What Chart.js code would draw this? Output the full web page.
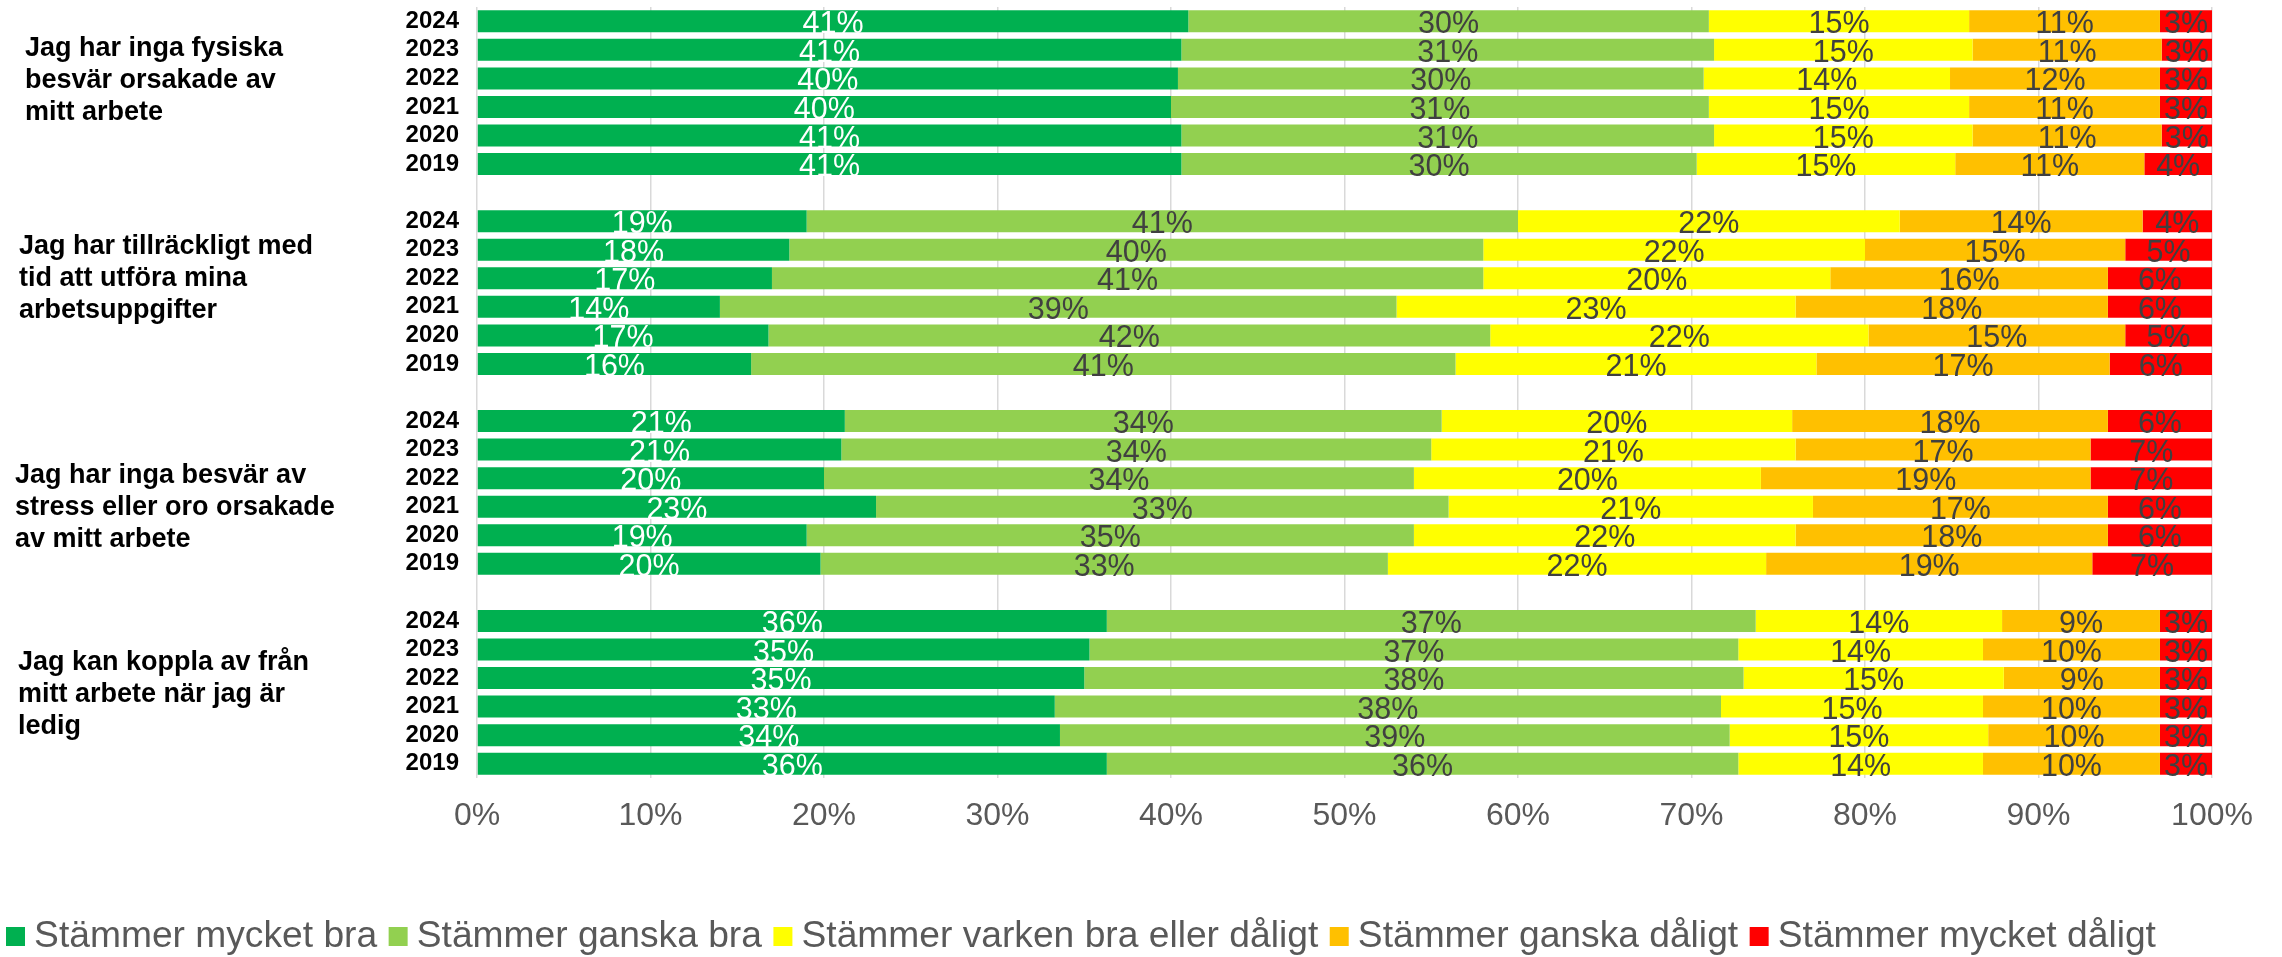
<!DOCTYPE html>
<html><head><meta charset="utf-8">
<script src="https://cdn.jsdelivr.net/npm/chart.js@4/dist/chart.umd.min.js"></script>
<style>html,body{margin:0;padding:0;background:#fff}#wrap{width:2282px;height:957px;position:relative}</style>
</head><body><div id="wrap"><canvas id="c"></canvas></div>
<script>
const years = ['2024','2023','2022','2021','2020','2019'];
const statements = [
  ['Jag har inga fysiska','besvär orsakade av','mitt arbete'],
  ['Jag har tillräckligt med','tid att utföra mina','arbetsuppgifter'],
  ['Jag har inga besvär av','stress eller oro orsakade','av mitt arbete'],
  ['Jag kan koppla av från','mitt arbete när jag är','ledig']
];
const seriesNames = ['Stämmer mycket bra','Stämmer ganska bra','Stämmer varken bra eller dåligt','Stämmer ganska dåligt','Stämmer mycket dåligt'];
const seriesColors = ['#00B050','#92D050','#FFFF00','#FFC000','#FF0000'];
const xTicks = [0,10,20,30,40,50,60,70,80,90,100];
// values (percent) per statement, years 2024..2019
const mycketBra = [
  41.0, 40.6, 40.4, 40.0, 40.6, 40.6,
  19.0, 18.0, 17.0, 14.0, 16.8, 15.8,
  21.2, 21.0, 20.0, 23.0, 19.0, 19.8,
  36.3, 35.3, 35.0, 33.3, 33.6, 36.3];
const ganskaBra = [
  30.0, 30.7, 30.3, 31.0, 30.7, 29.7,
  41.0, 40.0, 41.0, 39.0, 41.6, 40.6,
  34.4, 34.0, 34.0, 33.0, 35.0, 32.7,
  37.4, 37.4, 38.0, 38.4, 38.6, 36.4];
const varken = [
  15.0, 14.9, 14.2, 15.0, 14.9, 14.9,
  22.0, 22.0, 20.0, 23.0, 21.8, 20.8,
  20.2, 21.0, 20.0, 21.0, 22.0, 21.8,
  14.2, 14.1, 15.0, 15.1, 14.9, 14.1];
const ganskaDaligt = [
  11.0, 10.9, 12.1, 11.0, 10.9, 10.9,
  14.0, 15.0, 16.0, 18.0, 14.8, 16.9,
  18.2, 17.0, 19.0, 17.0, 18.0, 18.8,
  9.1, 10.2, 9.0, 10.2, 9.9, 10.2];
const mycketDaligt = [
  3.0, 2.9, 3.0, 3.0, 2.9, 3.9,
  4.0, 5.0, 6.0, 6.0, 5.0, 5.9,
  6.0, 7.0, 7.0, 6.0, 6.0, 6.9,
  3.0, 3.0, 3.0, 3.0, 3.0, 3.0];

const seriesValues = [mycketBra, ganskaBra, varken, ganskaDaligt, mycketDaligt];

// build category list with an empty slot between statements
const categories = [];
const groupIndex = [];
statements.forEach((s, g) => {
  const first = categories.length;
  years.forEach(y => categories.push(y));
  groupIndex.push([first, categories.length - 1]);
  if (g < statements.length - 1) categories.push('');
});
function expand(arr) {
  const out = [];
  statements.forEach((s, g) => {
    for (let k = 0; k < years.length; k++) out.push(arr[g * years.length + k]);
    if (g < statements.length - 1) out.push(null);
  });
  return out;
}

const FONT = '"Liberation Sans", Arial, sans-serif';

const valueLabels = {
  id: 'valueLabels',
  afterDatasetsDraw(chart) {
    const ctx = chart.ctx;
    ctx.save();
    ctx.font = '30.5px ' + FONT;
    ctx.textAlign = 'center';
    ctx.textBaseline = 'alphabetic';
    chart.data.datasets.forEach((ds, di) => {
      const meta = chart.getDatasetMeta(di);
      meta.data.forEach((bar, i) => {
        const v = ds.data[i];
        if (v == null) return;
        const p = bar.getProps(['x', 'y', 'base'], true);
        ctx.fillStyle = di === 0 ? '#FFFFFF' : '#404040';
        ctx.fillText(Math.round(v) + '%', (p.x + p.base) / 2, p.y + 12);
      });
    });
    ctx.restore();
  }
};

const groupLabels = {
  id: 'groupLabels',
  afterDraw(chart, args, opts) {
    const ctx = chart.ctx;
    const ys = chart.scales.y;
    ctx.save();
    ctx.font = 'bold 27px ' + FONT;
    ctx.fillStyle = '#000000';
    ctx.textAlign = 'left';
    ctx.textBaseline = 'alphabetic';
    statements.forEach((lines, g) => {
      const [a, b] = groupIndex[g];
      const mid = (ys.getPixelForValue(a) + ys.getPixelForValue(b)) / 2 + opts.offsets[g].dy;
      lines.forEach((t, li) => {
        const cy = mid + (li - (lines.length - 1) / 2) * opts.lineGap;
        ctx.fillText(t, opts.offsets[g].x, cy + 9.7);
      });
    });
    ctx.restore();
  }
};

const PAD_LEFT = -5.5;
const PAD_BOTTOM = -8;
const PLOT_BOTTOM = 778;

new Chart(document.getElementById('c'), {
  type: 'bar',
  data: {
    labels: categories,
    datasets: seriesNames.map((n, i) => ({
      label: n,
      data: expand(seriesValues[i]),
      backgroundColor: seriesColors[i],
      borderWidth: 0,
      barPercentage: 0.77,
      categoryPercentage: 1.0
    }))
  },
  options: {
    indexAxis: 'y',
    responsive: true,
    maintainAspectRatio: false,
    animation: false,
    layout: { padding: { left: PAD_LEFT, right: 0, top: 7, bottom: PAD_BOTTOM } },
    scales: {
      x: {
        stacked: true, min: 0, max: 100,
        afterBuildTicks(axis) { axis.ticks = xTicks.map(v => ({ value: v })); },
        ticks: { callback: v => v + '%', font: { family: FONT, size: 32 }, color: '#595959', padding: 19 },
        grid: { color: '#D9D9D9', lineWidth: 1.5, drawTicks: false },
        border: { display: false },
        afterFit(axis) {
          const lh = (axis.chart.legend && axis.chart.legend.height) ? axis.chart.legend.height : 72;
          axis.height = axis.chart.height - PAD_BOTTOM - lh - PLOT_BOTTOM;
          axis.paddingRight = 70;
        }
      },
      y: {
        stacked: true,
        grid: { display: false, drawTicks: false },
        border: { display: false },
        ticks: { font: { family: FONT, size: 24, weight: 'bold' }, color: '#000000', padding: 18, autoSkip: false },
        afterFit(axis) { axis.width = 477 - PAD_LEFT; axis.paddingTop = 0; axis.paddingBottom = 0; }
      }
    },
    plugins: {
      legend: {
        position: 'bottom', align: 'start',
        labels: {
          font: { family: FONT, size: 37.2 }, color: '#595959',
          usePointStyle: true, pointStyle: 'rect', boxWidth: 0.01, boxHeight: 19, padding: 21
        }
      },
      tooltip: { enabled: false },
      groupLabels: { lineGap: 32, offsets: [ {x:25, dy:-14.4}, {x:19, dy:-15.9}, {x:15, dy:13.1}, {x:18, dy:0.1} ] }
    }
  },
  plugins: [valueLabels, groupLabels]
});
</script></body></html>
